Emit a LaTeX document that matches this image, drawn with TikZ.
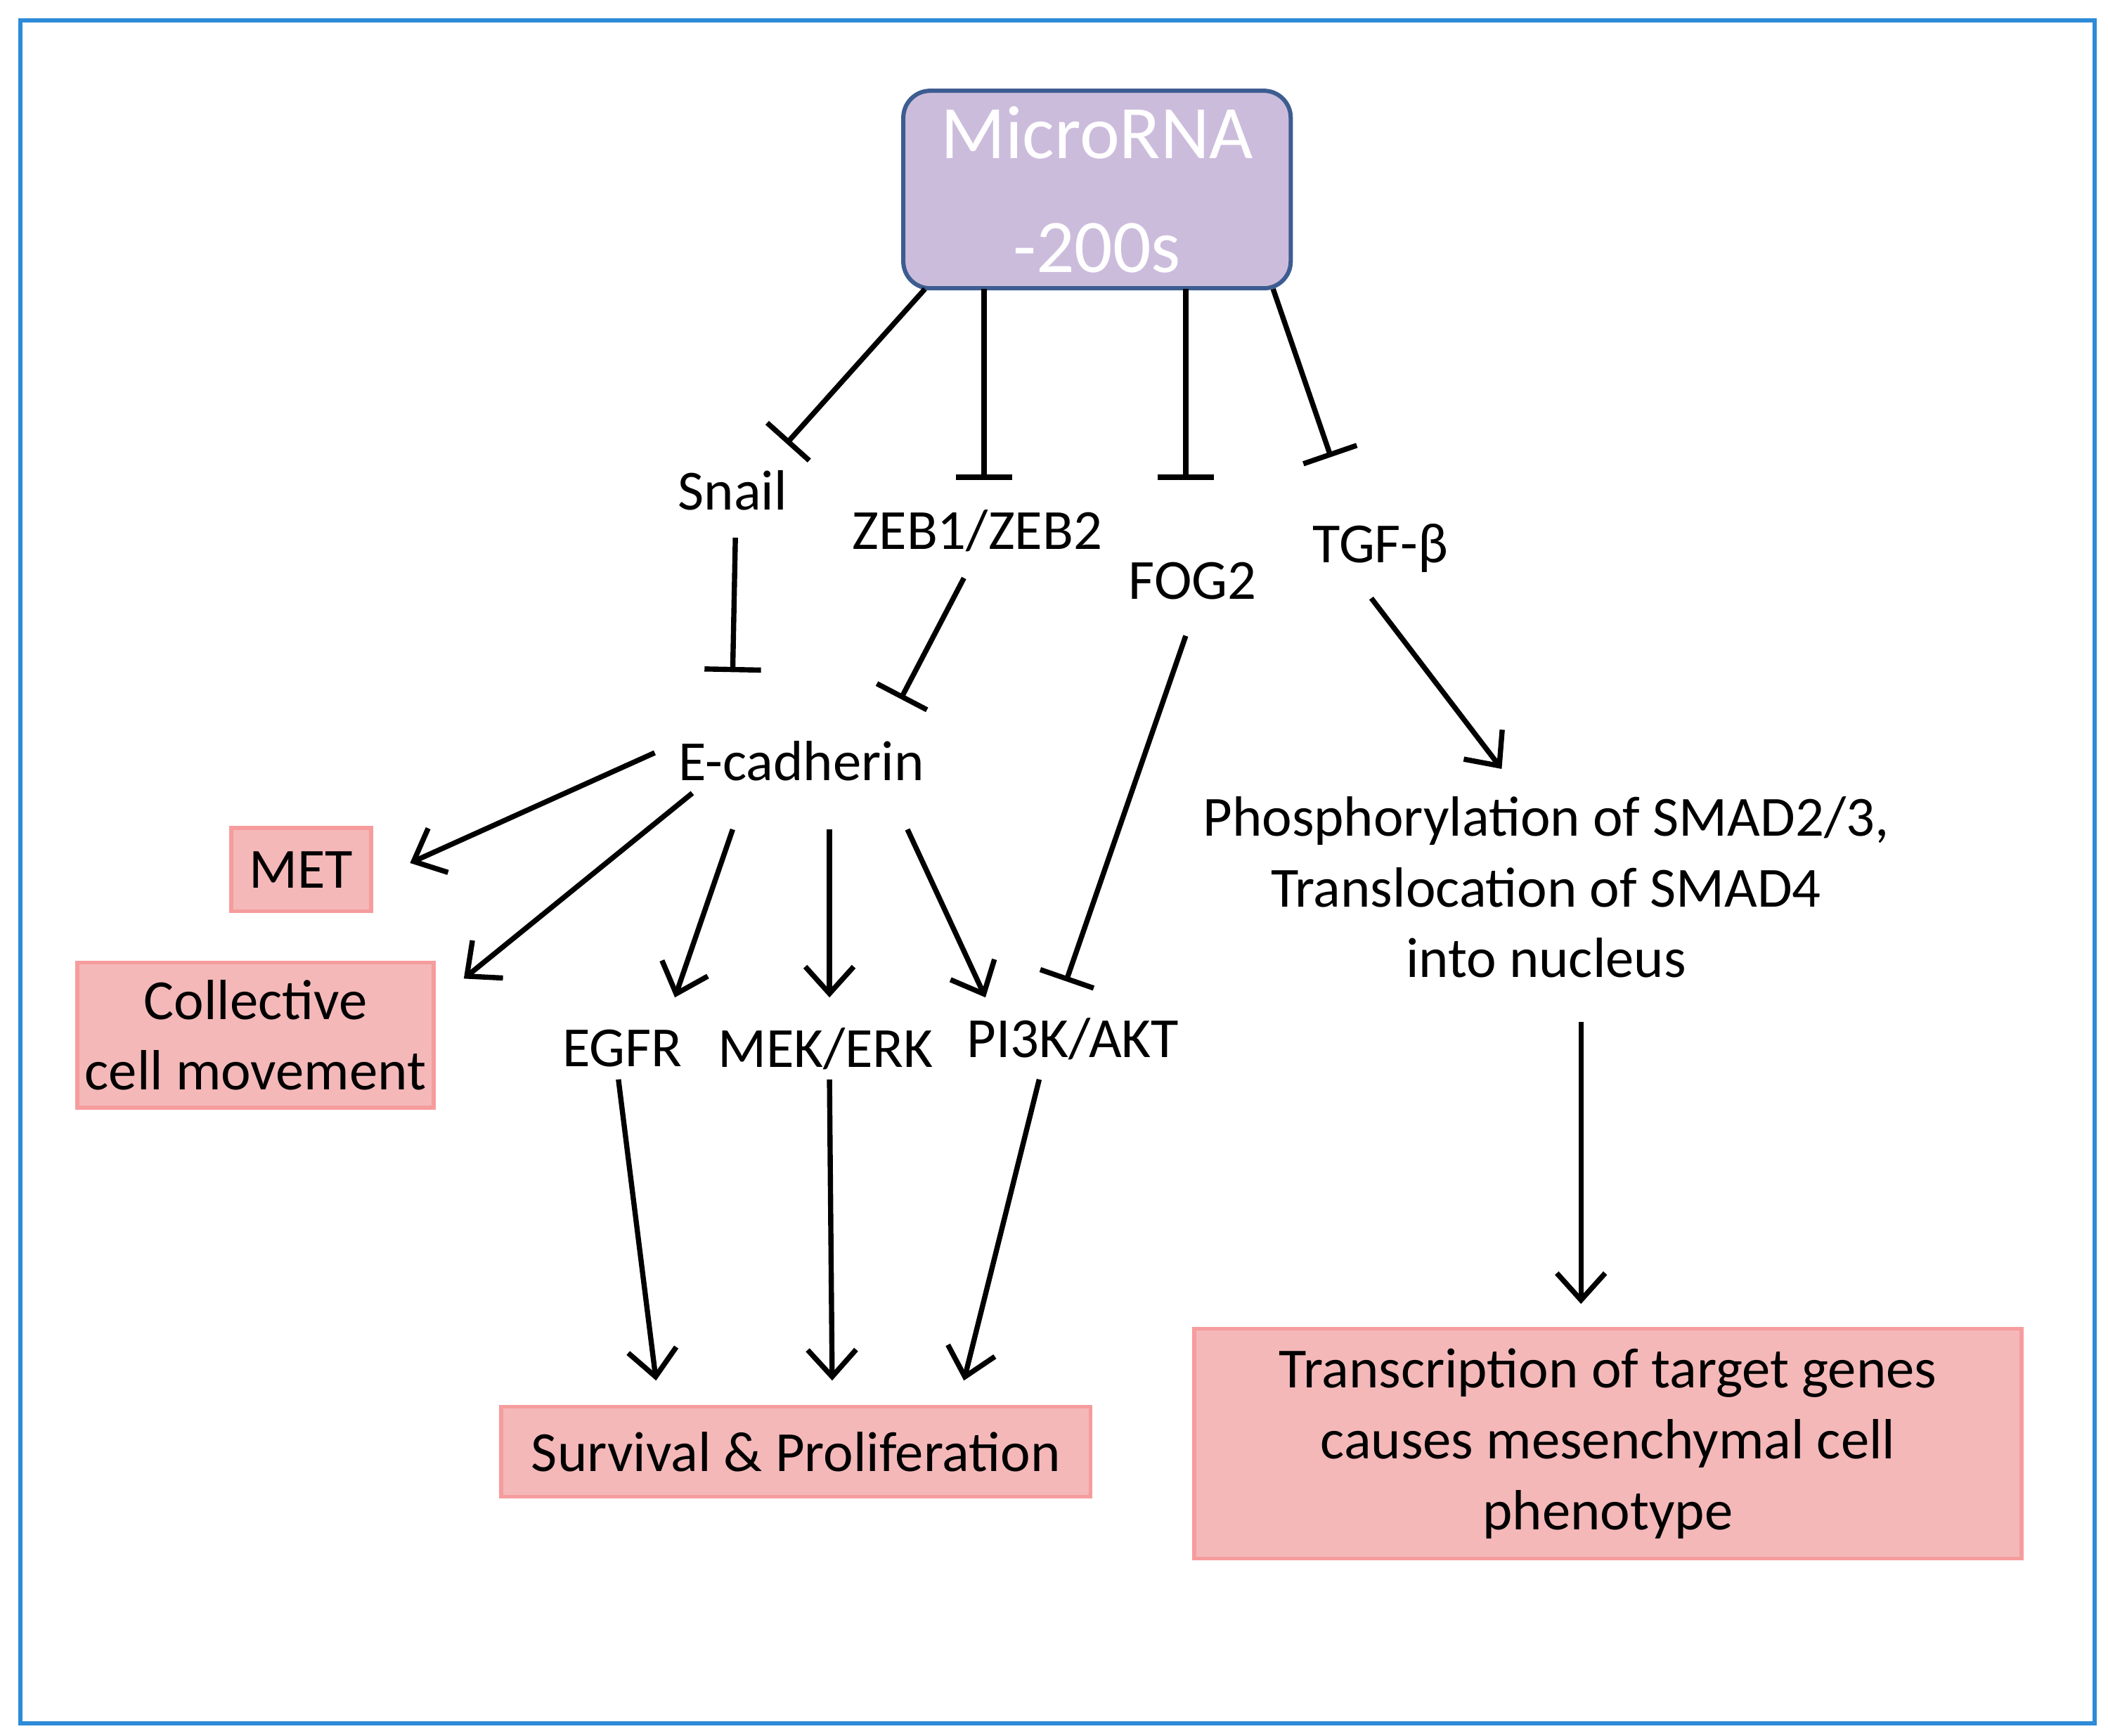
\documentclass[tikz,border=0pt]{standalone}
\usepackage{fontspec}
\setmainfont{Carlito}
\usetikzlibrary{arrows.meta}
\definecolor{framecol}{HTML}{2E8BD8}
\definecolor{mirfill}{HTML}{CCBCDC}
\definecolor{mirline}{HTML}{3D5D91}
\definecolor{boxpink}{HTML}{F4B8B9}
\tikzset{
  lbl/.style={inner sep=0pt, font=\fontsize{12}{15}\selectfont, align=center},
  outbox/.style={fill=boxpink, draw=boxpink!85!red, line width=0.8pt, inner sep=0pt, align=center, font=\fontsize{12}{15}\selectfont},
  inh/.style={line width=1.1pt, -{Bar[width=0.42cm,line width=1.1pt]}},
  act/.style={line width=1.1pt, -{Straight Barb[length=0.2cm,width=0.36cm,line width=1.1pt]}}
}
\begin{document}
\begin{tikzpicture}[x=0.01cm,y=-0.01cm]
\useasboundingbox (0,0) rectangle (1568,1291);
\draw[framecol, line width=0.9pt] (15,15) rectangle (1558,1282);
% top box
\node[fill=mirfill, draw=mirline, line width=0.9pt, rounded corners=0.2cm, minimum width=2.88cm, minimum height=1.43cm, text=white, align=center, font=\fontsize{16}{24}\selectfont] (mirna) at (816,141) {MicroRNA\\-200s};
% targets
\node[lbl] (snail) at (545,365) {Snail};
\node[lbl] (zeb) at (727,395) {ZEB1/ZEB2};
\node[lbl] (fog) at (887,432) {FOG2};
\node[lbl] (tgf) at (1027,408) {TGF-β};
\node[lbl] (ecad) at (596,566) {E-cadherin};
\node[lbl] (egfr) at (463,780) {EGFR};
\node[lbl] (mek) at (614,780) {MEK/ERK};
\node[lbl] (pik) at (798,773) {PI3K/AKT};
\node[lbl] (phos) at (1150,660) {Phosphorylation of SMAD2/3,\\Translocation of SMAD4\\into nucleus};
% outcome boxes
\node[outbox, minimum width=1.04cm, minimum height=0.62cm] (met) at (224,647) {MET};
\node[outbox, minimum width=2.65cm, minimum height=1.08cm] (coll) at (190,770) {Collective\\cell movement};
\node[outbox, minimum width=4.38cm, minimum height=0.67cm] (surv) at (592,1080) {Survival \& Proliferation};
\node[outbox, minimum width=6.15cm, minimum height=1.71cm] (trans) at (1196,1074) {Transcription of target genes\\causes mesenchymal cell\\phenotype};
% inhibitions
\draw[inh] ([shift={(-128,74)}]mirna.center) -- ([shift={(40,-35)}]snail.center);
\draw[inh] ([shift={(-84,74)}]mirna.center) -- ([shift={(5,-38)}]zeb.center);
\draw[inh] ([shift={(66,74)}]mirna.center) -- ([shift={(-5,-75)}]fog.center);
\draw[inh] ([shift={(131,74)}]mirna.center) -- ([shift={(-37,-68)}]tgf.center);
\draw[inh] ([shift={(2,35)}]snail.center) -- ([shift={(-51,-66)}]ecad.center);
\draw[inh] ([shift={(-10,35)}]zeb.center) -- ([shift={(74,-46)}]ecad.center);
\draw[inh] ([shift={(-5,41)}]fog.center) -- ([shift={(-5,-43)}]pik.center);
% activations
\draw[act] ([shift={(-7,37)}]tgf.center) -- ([shift={(-33,-88)}]phos.center);
\draw[act] ([shift={(-109,-6)}]ecad.center) -- ([shift={(81,-5)}]met.center);
\draw[act] ([shift={(-81,24)}]ecad.center) -- ([shift={(155,-42)}]coll.center);
\draw[act] ([shift={(-51,51)}]ecad.center) -- ([shift={(39,-38)}]egfr.center);
\draw[act] ([shift={(21,51)}]ecad.center) -- ([shift={(3,-38)}]mek.center);
\draw[act] ([shift={(79,51)}]ecad.center) -- ([shift={(-65,-31)}]pik.center);
\draw[act] ([shift={(-3,23)}]egfr.center) -- ([shift={(-104,-53)}]surv.center);
\draw[act] ([shift={(3,23)}]mek.center) -- ([shift={(27,-53)}]surv.center);
\draw[act] ([shift={(-25,30)}]pik.center) -- ([shift={(125,-53)}]surv.center);
\draw[act] ([shift={(26,100)}]phos.center) -- ([shift={(-20,-104)}]trans.center);
\end{tikzpicture}
\end{document}
